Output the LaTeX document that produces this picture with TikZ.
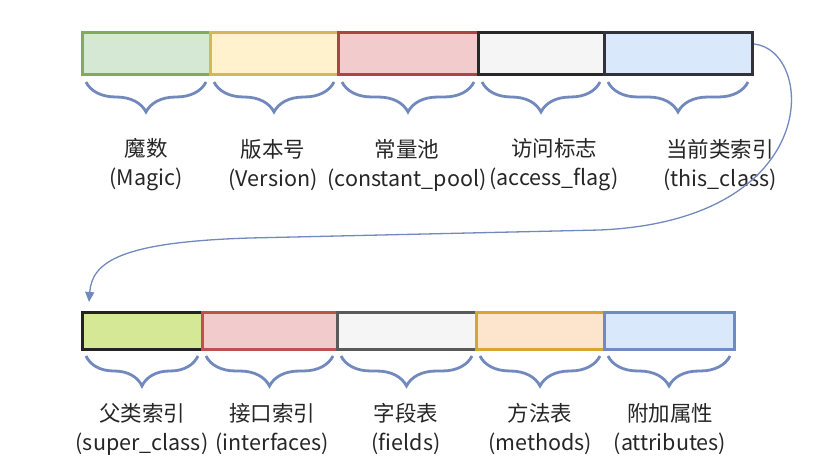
\documentclass[tikz,border=0pt]{standalone}
\usepackage{fontspec}
\setmainfont{Noto Sans CJK SC}
\usetikzlibrary{decorations.pathreplacing,arrows.meta}
\definecolor{brc}{HTML}{7189BD}
\tikzset{
  cell/.style={draw, line width=3pt},
  br/.style={draw=brc, line width=2.8pt, decorate, decoration={brace, mirror, amplitude=30pt, aspect=0.5}},
  lab/.style={align=center, font=\fontsize{21.5}{29}\selectfont, text=black!85},
}
\begin{document}
\begin{tikzpicture}[x=1pt,y=-1pt]
\useasboundingbox (0,0) rectangle (839,470);
% top row
\path[cell, fill={rgb,255:red,213;green,232;blue,212}, draw={rgb,255:red,130;green,170;blue,90}] (82,33) rectangle (210,75);
\path[cell, fill={rgb,255:red,255;green,242;blue,204}, draw={rgb,255:red,215;green,182;blue,86}] (210,33) rectangle (338,75);
\path[cell, fill={rgb,255:red,242;green,204;blue,204}, draw={rgb,255:red,170;green,70;blue,65}] (338,33) rectangle (478,75);
\path[cell, fill={rgb,255:red,245;green,245;blue,245}, draw={rgb,255:red,40;green,40;blue,40}] (478,33) rectangle (604,75);
\path[cell, fill={rgb,255:red,218;green,232;blue,252}, draw={rgb,255:red,50;green,50;blue,60}] (604,33) rectangle (752,75);
% bottom row
\path[cell, fill={rgb,255:red,213;green,232;blue,150}, draw={rgb,255:red,35;green,35;blue,35}] (82,313) rectangle (202,350);
\path[cell, fill={rgb,255:red,242;green,204;blue,204}, draw={rgb,255:red,190;green,80;blue,80}] (202,313) rectangle (337,350);
\path[cell, fill={rgb,255:red,245;green,245;blue,245}, draw={rgb,255:red,90;green,90;blue,90}] (337,313) rectangle (476,350);
\path[cell, fill={rgb,255:red,252;green,228;blue,205}, draw={rgb,255:red,215;green,165;blue,50}] (476,313) rectangle (604,350);
\path[cell, fill={rgb,255:red,218;green,232;blue,252}, draw={rgb,255:red,110;green,140;blue,190}] (604,313) rectangle (734,350);
% labels
\node[lab] (l1) at (146,165) {魔数\\(Magic)};
\node[lab] (l2) at (273,165) {版本号\\(Version)};
\node[lab] (l3) at (407,165) {常量池\\(constant\_pool)};
\node[lab] (l4) at (554,165) {访问标志\\(access\_flag)};
\node[lab] (l5) at (720,165) {当前类索引\\(this\_class)};
\node[lab] (m1) at (142,429) {父类索引\\(super\_class)};
\node[lab] (m2) at (272,429) {接口索引\\(interfaces)};
\node[lab] (m3) at (406,429) {字段表\\(fields)};
\node[lab] (m4) at (540,429) {方法表\\(methods)};
\node[lab] (m5) at (670,429) {附加属性\\(attributes)};
% braces
\foreach \a/\b in {82/210,210/338,338/478,478/604,604/752}
  \draw[br] (\a+4,82) -- (\b-4,82);
\foreach \a/\b in {82/202,202/337,337/476,476/604,604/734}
  \draw[br] (\a+4,356) -- (\b-4,356);
% connector
\coordinate (s) at (754,44);
\coordinate (e) at (89,302);
\draw[brc, line width=1.3pt, -{Triangle[length=10pt,width=9pt]}] (s) .. controls (815,50) and (825,220) .. (600,230)
  -- (250,238) .. controls (120,242) and (92,262) .. (e);
\end{tikzpicture}
\end{document}
